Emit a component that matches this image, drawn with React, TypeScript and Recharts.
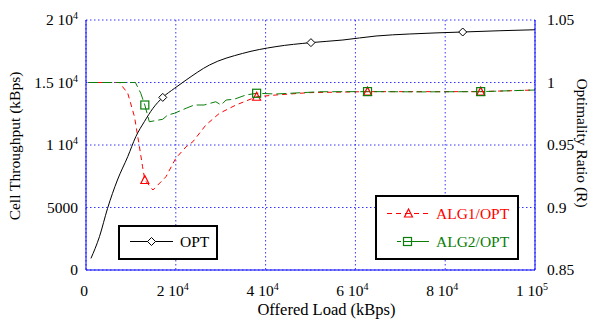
import React from 'react';
import { ComposedChart, Line, XAxis, YAxis, CartesianGrid, Label } from 'recharts';

document.body.style.margin = '0';

const FONT = '"Liberation Serif", "Times New Roman", serif';
const BLUE = '#0000ff';
const RED = '#ff0000';
const GREEN = '#0a7d0a';

// Offered load (kBps) vs cell throughput (kBps)
const optX = [1100, 3000, 4800, 7000, 9300, 11100, 13000, 14900, 17100, 19700, 22300, 27500, 34900, 42300, 50100, 57200, 64600, 72000, 83900, 92000, 100000];
const optY = [930, 2670, 4930, 7200, 9070, 10670, 11870, 12930, 13810, 14530, 15200, 16400, 17330, 17870, 18190, 18400, 18720, 18880, 19040, 19140, 19220];
const optMarkers = [17100, 50100, 83900];

// optimality ratios
const alg1X = [500, 4000, 7400, 9300, 10800, 11900, 12600, 13100, 14900, 17800, 20000, 22300, 23800, 26700, 29700, 33400, 38000, 42300, 49700, 62700, 75000, 87900, 100000];
const alg1R = [1, 1, 1, 0.9914, 0.9726, 0.9486, 0.9326, 0.922, 0.914, 0.9246, 0.9394, 0.9486, 0.9526, 0.966, 0.9753, 0.982, 0.9886, 0.99, 0.9919, 0.9927, 0.9927, 0.9927, 0.994];
const alg1Markers = [13100, 38000, 62700, 87900];

const alg2X = [500, 4000, 8000, 11000, 12200, 13100, 13700, 14100, 15500, 17100, 18200, 19700, 22300, 24100, 26300, 28900, 30100, 31200, 33000, 35600, 38000, 42300, 52000, 62700, 75000, 87900, 100000];
const alg2R = [1, 1, 1, 1, 0.9914, 0.982, 0.974, 0.9686, 0.9695, 0.9706, 0.974, 0.9754, 0.9794, 0.982, 0.982, 0.9846, 0.982, 0.986, 0.9866, 0.99, 0.9914, 0.9908, 0.9926, 0.9927, 0.9925, 0.9927, 0.994];
const alg2Markers = [13100, 38000, 62700, 87900];

const xTicks = [0, 20000, 40000, 60000, 80000, 100000];
const xTickLabels = [['0', ''], ['2 10', '4'], ['4 10', '4'], ['6 10', '4'], ['8 10', '4'], ['1 10', '5']];
const leftTicks = [0, 5000, 10000, 15000, 20000];
const leftTickLabels = [['0', ''], ['5000', ''], ['1 10', '4'], ['1.5 10', '4'], ['2 10', '4']];
const rightTicks = [0.85, 0.9, 0.95, 1, 1.05];
const rightTickLabels = ['0.85', '0.9', '0.95', '1', '1.05'];

const optData = optX.map((x, i) => ({ x, y: optY[i], m: optMarkers.includes(x) }));
const alg1Data = alg1X.map((x, i) => ({ x, r: alg1R[i], m: alg1Markers.includes(x) }));
const alg2Data = alg2X.map((x, i) => ({ x, r: alg2R[i], m: alg2Markers.includes(x) }));

function Sup({ base, exp }: { base: string; exp: string }) {
  return (
    <>
      <tspan>{base}</tspan>
      {exp && <tspan dy={-6} fontSize={10}>{exp}</tspan>}
    </>
  );
}

function XTick(props: any) {
  const { x, y, index } = props;
  const [base, exp] = xTickLabels[index];
  return (
    <text x={x - (exp ? 3 : 2)} y={y + 26} textAnchor="middle" fontSize={15.5} fontFamily={FONT} fill="#000">
      <Sup base={base} exp={exp} />
    </text>
  );
}

function LeftTick(props: any) {
  const { x, y, index } = props;
  const [base, exp] = leftTickLabels[index];
  return (
    <text x={x - 8} y={y + 5} textAnchor="end" fontSize={15.5} fontFamily={FONT} fill="#000">
      <Sup base={base} exp={exp} />
    </text>
  );
}

function RightTick(props: any) {
  const { x, y, index } = props;
  return (
    <text x={x + 12} y={y + 5} textAnchor="start" fontSize={15.5} fontFamily={FONT} fill="#000">
      {rightTickLabels[index]}
    </text>
  );
}

const diamond = (cx: number, cy: number, k: string | number) => (
  <path key={k} d={`M${cx},${cy - 4}L${cx + 4},${cy}L${cx},${cy + 4}L${cx - 4},${cy}Z`} fill="#fff" stroke="#000" strokeWidth={1} />
);
const triangle = (cx: number, cy: number, k: string | number) => (
  <path key={k} d={`M${cx},${cy - 4.5}L${cx + 4},${cy + 3.5}L${cx - 4},${cy + 3.5}Z`} fill="none" stroke={RED} strokeWidth={1.2} />
);
const square = (cx: number, cy: number, k: string | number) => (
  <rect key={k} x={cx - 4} y={cy - 4} width={8} height={8} fill="none" stroke={GREEN} strokeWidth={1.2} />
);

const markerDot = (shape: typeof diamond) => (props: any) => {
  const { cx, cy, payload, index } = props;
  if (!payload.m) return <g key={index} />;
  return shape(cx, cy, index);
};

function AxisTitle({ x, y, angle, text, size }: { x: number; y: number; angle: number; text: string; size: number }) {
  return (
    <text x={x} y={y} transform={`rotate(${angle} ${x} ${y})`} textAnchor="middle" dominantBaseline="central" fontSize={size} fontFamily={FONT} fill="#000">
      {text}
    </text>
  );
}

function Legends() {
  return (
    <>
      <svg style={{ position: 'absolute', left: 118, top: 225 }} width={100} height={35}>
        <rect x={1} y={1} width={98} height={33} fill="#fff" stroke="#000" strokeWidth={2} />
        <line x1={12} y1={16.5} x2={55} y2={16.5} stroke="#000" strokeWidth={1} />
        {diamond(33.5, 16.5, 'd')}
        <text x={62} y={22} fontSize={15.5} fontFamily={FONT} fill="#000">OPT</text>
      </svg>
      <svg style={{ position: 'absolute', left: 375, top: 195 }} width={144} height={65}>
        <rect x={1} y={1} width={142} height={63} fill="#fff" stroke="#000" strokeWidth={2} />
        <line x1={12} y1={18.5} x2={55} y2={18.5} stroke={RED} strokeWidth={1} strokeDasharray="5 4" />
        {triangle(33.5, 18.5, 't')}
        <text x={61} y={23.5} fontSize={15.5} fontFamily={FONT} fill={RED}>ALG1/OPT</text>
        <line x1={22} y1={46.5} x2={54} y2={46.5} stroke={GREEN} strokeWidth={1} strokeDasharray="4 3 40" />
        {square(32.5, 46.5, 's')}
        <text x={61} y={51.5} fontSize={15.5} fontFamily={FONT} fill={GREEN}>ALG2/OPT</text>
      </svg>
    </>
  );
}

export default function App() {
  return (
    <div style={{ position: 'relative', width: 593, height: 326, background: '#fff' }}>
      <ComposedChart width={593} height={326} margin={{ top: 20, right: 0, bottom: 0, left: 0 }}>
        <CartesianGrid yAxisId="left" stroke={BLUE} strokeOpacity={0.8} strokeDasharray="1.5 2.5" />
        <XAxis
          dataKey="x"
          type="number"
          domain={[0, 100000]}
          ticks={xTicks}
          height={56}
          tickSize={0}
          tickMargin={0}
          tickLine={false}
          axisLine={{ stroke: BLUE }}
          tick={<XTick />}
          allowDataOverflow
        >
          <Label content={() => <AxisTitle x={326.5} y={309} angle={0} size={16.5} text="Offered Load (kBps)" />} />
        </XAxis>
        <XAxis xAxisId="top" orientation="top" type="number" domain={[0, 100000]} height={0} tick={false} tickLine={false} axisLine={{ stroke: BLUE }} />
        <YAxis
          yAxisId="left"
          type="number"
          domain={[0, 20000]}
          ticks={leftTicks}
          width={86}
          tickSize={0}
          tickMargin={0}
          tickLine={false}
          axisLine={{ stroke: BLUE }}
          tick={<LeftTick />}
        >
          <Label content={() => <AxisTitle x={14} y={146} angle={-90} size={15.5} text="Cell Throughput (kBps)" />} />
        </YAxis>
        <YAxis
          yAxisId="right"
          orientation="right"
          type="number"
          domain={[0.85, 1.05]}
          ticks={rightTicks}
          width={58}
          tickSize={0}
          tickMargin={0}
          tickLine={false}
          axisLine={{ stroke: BLUE }}
          tick={<RightTick />}
        >
          <Label content={() => <AxisTitle x={582} y={143} angle={90} size={15.5} text="Optimality Ratio (R)" />} />
        </YAxis>
        <Line
          data={alg1Data}
          yAxisId="right"
          dataKey="r"
          type="linear"
          stroke={RED}
          strokeWidth={1}
          strokeDasharray="5 4"
          dot={markerDot(triangle)}
          activeDot={false}
          isAnimationActive={false}
        />
        <Line
          data={alg2Data}
          yAxisId="right"
          dataKey="r"
          type="linear"
          stroke={GREEN}
          strokeWidth={1}
          strokeDasharray="10 4"
          dot={markerDot(square)}
          activeDot={false}
          isAnimationActive={false}
        />
        <Line
          data={optData}
          yAxisId="left"
          dataKey="y"
          type="monotone"
          stroke="#000"
          strokeWidth={1}
          dot={markerDot(diamond)}
          activeDot={false}
          isAnimationActive={false}
        />
      </ComposedChart>
      <Legends />
    </div>
  );
}
